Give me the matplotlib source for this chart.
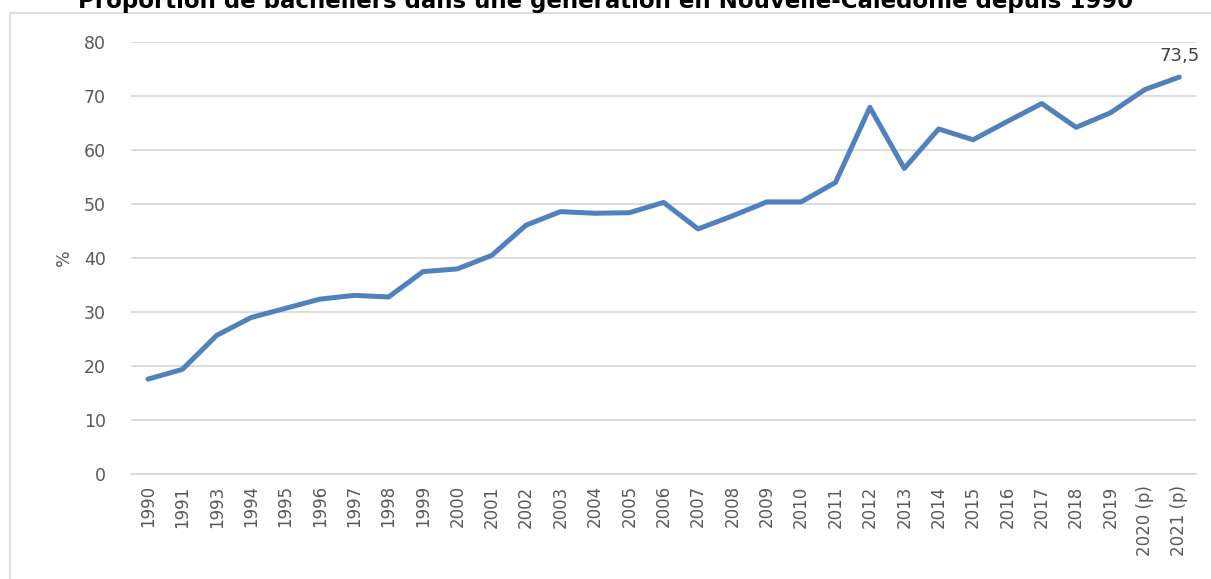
import matplotlib.pyplot as plt
from matplotlib.patches import Rectangle

# Data
years = ['1990', '1991', '1993', '1994', '1995', '1996', '1997', '1998', '1999',
         '2000', '2001', '2002', '2003', '2004', '2005', '2006', '2007', '2008',
         '2009', '2010', '2011', '2012', '2013', '2014', '2015', '2016', '2017',
         '2018', '2019', '2020 (p)', '2021 (p)']
values = [17.6, 19.4, 25.7, 29.0, 30.7, 32.4, 33.1, 32.8, 37.5,
          38.0, 40.5, 46.1, 48.6, 48.3, 48.4, 50.3, 45.4, 47.8,
          50.4, 50.4, 54.0, 67.9, 56.6, 63.9, 61.9, 65.3, 68.6,
          64.2, 66.9, 71.2, 73.5]
yticks = [0, 10, 20, 30, 40, 50, 60, 70, 80]

title = "Proportion de bacheliers dans une génération en Nouvelle-Calédonie depuis 1990"
gray = '#595959'

fig = plt.figure(figsize=(12.11, 5.79), dpi=100)
ax = fig.add_axes([0.108, 0.181, 0.880, 0.7465])

x = list(range(len(years)))
ax.plot(x, values, color='#4F81BD', linewidth=3.6, solid_joinstyle='round',
        solid_capstyle='round', zorder=3)

# label on the last point
ax.annotate(f"{values[-1]:.1f}".replace('.', ','), (x[-1], values[-1]),
            xytext=(0, 9), textcoords='offset points', ha='center', va='bottom',
            fontsize=13, color='#404040')

ax.set_xlim(-0.5, len(years) - 0.5)
ax.set_ylim(0, 80)
ax.set_yticks(yticks)
ax.set_xticks(x)
ax.set_xticklabels(years, rotation=90, fontsize=12, color=gray)
ax.tick_params(axis='y', labelsize=12.5, labelcolor=gray, length=0, pad=18)
ax.tick_params(axis='x', length=0, pad=8)
ax.set_ylabel('%', fontsize=12.5, color=gray, labelpad=8)

ax.grid(axis='y', color='#D9D9D9', linewidth=1.3)
ax.set_axisbelow(True)
for side in ['top', 'right', 'left']:
    ax.spines[side].set_visible(False)
ax.spines['bottom'].set_color('#D9D9D9')
ax.spines['bottom'].set_linewidth(1.3)

# chart border (partly outside the picture) and cropped title
fig.patches.append(Rectangle((10 / 1211, -0.1), 1.2, 1 - 13 / 579 + 0.1,
                             transform=fig.transFigure, fill=False,
                             edgecolor='#D9D9D9', linewidth=1.3))
fig.text(0.5, 1 - 8 / 579, title, ha='center', va='baseline', fontsize=16.5,
         fontweight='bold', color='#000000')

fig.savefig('out.png', dpi=100)
